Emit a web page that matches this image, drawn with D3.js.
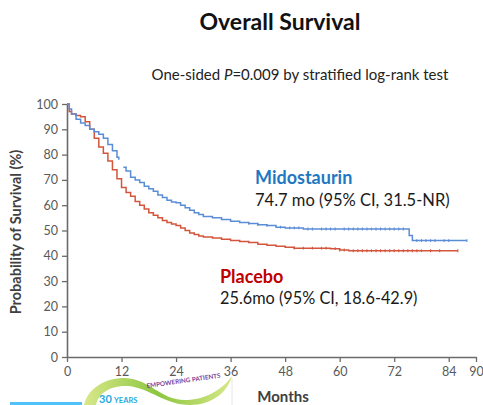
<!DOCTYPE html>
<html><head><meta charset="utf-8">
<script src="https://cdn.jsdelivr.net/npm/d3@7"></script>
<style>body{margin:0;background:#fff;}svg{display:block;font-family:Lato,"Open Sans",sans-serif;}</style>
</head><body><svg id="c" width="483" height="405"></svg>
<script>
const xTicks = [0,12,24,36,48,60,72,84,90];
const yTicks = [0,10,20,30,40,50,60,70,80,90,100];
const midoTime = [0,0.5,1,2,3,4,5,6,7,8,9,10,11,11.4,12.4,13,14,15,16,17,18,19,20,21,22,23,24,25,26,27,28,29,30,32,34,36,38,40,42,44,46,48,50,52,60,75,75.3,76,88];
const midoSurv = [100,98,96,94,92.5,91.5,90,89,88,86.5,84,81.5,79,78,75,73.5,71,70,69,67.5,66.5,65.5,64,63,62,61.3,61,60,59,58,57,56.3,55.5,55,54.3,53.7,53.2,52.8,52.3,52,51.3,51,51,50.6,50.6,50.6,48,46,46];
const midoGap = [11.4,12.4];
const placTime = [0,0.5,1,2,3,4,5,6,7,8,9,10,11,12,13,14,15,16,17,18,19,20,21,22,23,24,25,26,27,28,29,30,32,34,36,38,40,42,44,46,48,50,55,58,60,62,86];
const placSurv = [100,97,96,95.5,95,93,90,86.5,83,80.5,77.5,74,70.5,67,65,63.5,61.5,60,58.5,57,56,55,54,53.2,52.6,52,51,50,49,48.4,47.8,47.4,47,46.5,46,45.7,45.3,44.6,44.2,43.8,43.4,43,43,42.8,42.3,42,42];
const midoCensor = [40,42,44,47,49,50,51,53,54,56,57,58,59,61,62,63,64,65,66,67,68,69,70,71,72,73,74,77,78,79,80,81,83,84,88];
const placCensor = [50,52,54,56,57,59,60,61,63,64,65,66,67,68,69,70,71,72,73,74,75,76,77,78,80,82,86];

const svg = d3.select("#c");
const x = d3.scaleLinear().domain([0,90]).range([67,476]);
const y = d3.scaleLinear().domain([0,100]).range([357,104]);
const axisCol = "#6b6b6b", labCol = "#595959";

// title
svg.append("text").attr("x",280).attr("y",30).attr("text-anchor","middle")
  .attr("font-size",23).attr("font-weight","bold").attr("fill","#111").text("Overall Survival");
const sub = svg.append("text").attr("x",300).attr("y",80).attr("text-anchor","middle")
  .attr("font-size",15).attr("fill","#222");
sub.append("tspan").text("One-sided ");
sub.append("tspan").attr("font-style","italic").text("P");
sub.append("tspan").text("=0.009 by stratified log-rank test");

// axes
const gx = svg.append("g").attr("transform","translate(0,357)")
  .call(d3.axisBottom(x).tickValues(xTicks).tickSize(5).tickSizeOuter(0));
const gy = svg.append("g").attr("transform","translate(67,0)")
  .call(d3.axisLeft(y).tickValues(yTicks).tickSize(5).tickSizeOuter(0));
[gx,gy].forEach(g=>{
  g.select(".domain").attr("stroke",axisCol).attr("stroke-width",1.6);
  g.selectAll(".tick line").attr("stroke",axisCol).attr("stroke-width",1.3);
  g.selectAll(".tick text").attr("fill",labCol).attr("font-size",12.5).attr("font-family","Lato,'Open Sans',sans-serif");
});
gx.selectAll(".tick text").attr("dy","0.9em");
gy.selectAll(".tick text").attr("dx","-1");

svg.append("text").attr("transform","translate(21,232) rotate(-90)").attr("text-anchor","middle")
  .attr("font-size",14.5).attr("font-weight","bold").attr("fill","#404040").text("Probability of Survival (%)");
svg.append("text").attr("x",283).attr("y",402).attr("text-anchor","middle")
  .attr("font-size",15).attr("font-weight","bold").attr("fill","#404040").text("Months");

// curves
const line = d3.line().x(d=>x(d[0])).y(d=>y(d[1])).curve(d3.curveStepAfter);
const mido = midoTime.map((t,i)=>[t,midoSurv[i]]);
const plac = placTime.map((t,i)=>[t,placSurv[i]]);
const blue = "#5b8dd6", red = "#d4553c";
svg.append("path").attr("d",line(plac)).attr("fill","none").attr("stroke",red).attr("stroke-width",1.5);
svg.append("path").attr("d",line(mido.filter(d=>d[0]<=midoGap[0]))).attr("fill","none").attr("stroke",blue).attr("stroke-width",1.5);
svg.append("path").attr("d",line(mido.filter(d=>d[0]>=midoGap[1]))).attr("fill","none").attr("stroke",blue).attr("stroke-width",1.5);

function survAt(times,survs,t){let s=survs[0];for(let i=0;i<times.length;i++){if(times[i]<=t)s=survs[i];}return s;}
svg.append("g").selectAll("line").data(midoCensor).join("line")
  .attr("x1",d=>x(d)).attr("x2",d=>x(d))
  .attr("y1",d=>y(survAt(midoTime,midoSurv,d))-1.4).attr("y2",d=>y(survAt(midoTime,midoSurv,d))+1.4)
  .attr("stroke",blue).attr("stroke-width",1.1);
svg.append("g").selectAll("line").data(placCensor).join("line")
  .attr("x1",d=>x(d)).attr("x2",d=>x(d))
  .attr("y1",d=>y(survAt(placTime,placSurv,d))-1.4).attr("y2",d=>y(survAt(placTime,placSurv,d))+1.4)
  .attr("stroke",red).attr("stroke-width",1.1);

// annotations
svg.append("text").attr("x",255).attr("y",184).attr("font-size",18).attr("font-weight","bold").attr("fill","#1f78c1").text("Midostaurin");
svg.append("text").attr("x",255).attr("y",206).attr("font-size",16.5).attr("fill","#1a1a1a").text("74.7 mo (95% CI, 31.5-NR)");
svg.append("text").attr("x",220).attr("y",283).attr("font-size",18).attr("font-weight","bold").attr("fill","#c00000").text("Placebo");
svg.append("text").attr("x",220).attr("y",304).attr("font-size",16.3).attr("fill","#1a1a1a").text("25.6mo (95% CI, 18.6-42.9)");

// logo fragment at bottom
const logo = svg.append("g");
const grad = svg.append("defs").append("linearGradient").attr("id","sw").attr("x1","0").attr("x2","1");
grad.append("stop").attr("offset","0").attr("stop-color","#d8e88a");
grad.append("stop").attr("offset","0.5").attr("stop-color","#8cc63f");
grad.append("stop").attr("offset","1").attr("stop-color","#d8e88a");
logo.append("path").attr("d","M84,405 C88,388 105,378 125,378 C150,379 160,400 185,400 C205,400 222,390 232,376 C228,392 212,405 190,405 C165,405 150,388 128,386 C108,385 98,395 96,405 Z")
  .attr("fill","url(#sw)");
logo.append("text").attr("x",99).attr("y",403).attr("font-size",11).attr("font-weight","bold").attr("fill","#29a9e0").text("30");
logo.append("text").attr("x",114).attr("y",403).attr("font-size",7.5).attr("font-weight","bold").attr("fill","#29a9e0").text("YEARS");
logo.append("text").attr("transform","translate(147,388) rotate(-8)").attr("font-size",6.3).attr("font-weight","bold").attr("fill","#7b3f98").text("EMPOWERING PATIENTS");
logo.append("rect").attr("x",10).attr("y",402).attr("width",72).attr("height",3).attr("fill","#4fc3f7");
logo.append("line").attr("x1",232).attr("x2",232).attr("y1",378).attr("y2",405).attr("stroke","#e6e6e6");
</script></body></html>
